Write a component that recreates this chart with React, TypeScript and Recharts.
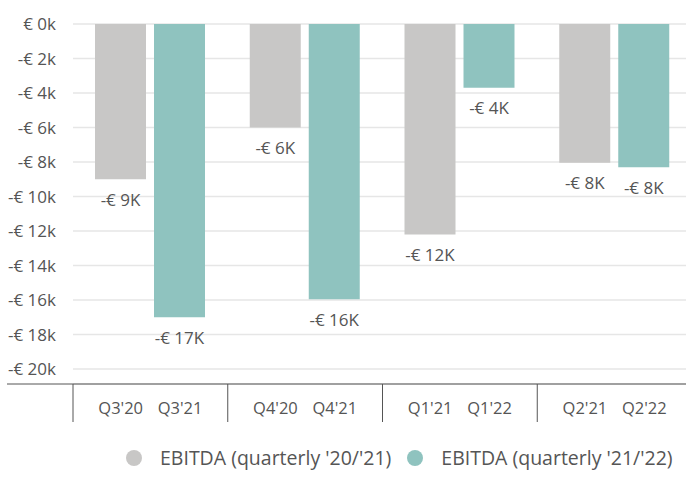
import React from "react";
import { BarChart, Bar, XAxis, YAxis, CartesianGrid, LabelList } from "recharts";

const groups = ["Q3", "Q4", "Q1", "Q2"];
const prevLabels = ["Q3'20", "Q4'20", "Q1'21", "Q2'21"];
const currLabels = ["Q3'21", "Q4'21", "Q1'22", "Q2'22"];
const prevValues = [-9000, -6000, -12200, -8050];
const currValues = [-17000, -15950, -3700, -8300];
const yTicks = [0, -2000, -4000, -6000, -8000, -10000, -12000, -14000, -16000, -18000, -20000];
const seriesNames = ["EBITDA (quarterly '20/'21)", "EBITDA (quarterly '21/'22)"];

const data = groups.map((g, i) => ({
  group: g,
  prevLabel: prevLabels[i],
  currLabel: currLabels[i],
  prev: prevValues[i],
  curr: currValues[i],
}));

const W = 700;
const H = 477;
const M = { top: 24, right: 8, bottom: 43, left: 0 };
const Y_W = 73;
const BAR_CAT_GAP = 22;
const BAR_GAP = 8;
const GRAY = "#c8c7c6";
const TEAL = "#8fc3bf";
const TEXT = "#555555";
const AXIS = "#555555";
const FONT = "'Open Sans', sans-serif";

const plotW = W - M.left - M.right - Y_W;
const band = plotW / groups.length;
const barSize = (band - 2 * BAR_CAT_GAP - BAR_GAP) / 2;
const labelShift = (barSize + BAR_GAP) / 2;

const XTick = (props: any) => {
  const { x, y, index, payload } = props;
  const d = data.find((r) => r.group === payload.value) || data[index];
  const left = x - band / 2;
  const right = x + band / 2;
  return (
    <g>
      {index === 0 && <line x1={7} x2={left} y1={y} y2={y} stroke={AXIS} strokeWidth={1} />}
      <line x1={left} x2={left} y1={y} y2={y + 38} stroke={AXIS} strokeWidth={1} />
      {index === groups.length - 1 && (
        <line x1={right} x2={right} y1={y} y2={y + 38} stroke={AXIS} strokeWidth={1} />
      )}
      <text x={x - labelShift} y={y + 30} textAnchor="middle" fill={TEXT} fontSize={16.5} fontFamily={FONT}>
        {d.prevLabel}
      </text>
      <text x={x + labelShift} y={y + 30} textAnchor="middle" fill={TEXT} fontSize={16.5} fontFamily={FONT}>
        {d.currLabel}
      </text>
    </g>
  );
};

const fmtY = (v: number) => (v === 0 ? "€ 0k" : `-€ ${Math.abs(v) / 1000}k`);
const fmtLabel = (v: number) => `-€ ${Math.round(Math.abs(v) / 1000)}K`;

const BarLabel = (props: any) => {
  const { x, y, width, height, value } = props;
  const end = Math.max(y, y + height);
  return (
    <text
      x={x + width / 2}
      y={end + 20}
      textAnchor="middle"
      dominantBaseline="central"
      fill={TEXT}
      fontSize={17}
      fontFamily={FONT}
    >
      {fmtLabel(value)}
    </text>
  );
};

const LegendBlock = () => (
  <div
    style={{
      position: "absolute",
      left: 126,
      top: 446,
      height: 24,
      display: "flex",
      alignItems: "center",
      fontFamily: FONT,
      fontSize: 19.5,
      color: TEXT,
    }}
  >
    {seriesNames.map((n, i) => (
      <div key={n} style={{ display: "flex", alignItems: "center", marginRight: 16 }}>
        <span
          style={{
            display: "inline-block",
            width: 16,
            height: 16,
            borderRadius: 8,
            background: i === 0 ? GRAY : TEAL,
            marginRight: 18,
          }}
        />
        <span style={{ whiteSpace: "nowrap", lineHeight: "24px" }}>{n}</span>
      </div>
    ))}
  </div>
);

export default function App() {
  return (
    <div style={{ position: "absolute", left: 0, top: 0, width: 686, height: 477, overflow: "hidden", background: "#fff" }}>
      <BarChart
        width={W}
        height={H}
        data={data}
        margin={M}
        barCategoryGap={BAR_CAT_GAP}
        barGap={BAR_GAP}
      >
        <CartesianGrid vertical={false} stroke="#e6e6e6" strokeWidth={1.5} />
        <XAxis
          dataKey="group"
          axisLine={{ stroke: AXIS, strokeWidth: 1 }}
          tickLine={false}
          tickSize={0}
          tickMargin={0}
          height={50}
          tick={<XTick />}
          interval={0}
        />
        <YAxis
          width={Y_W}
          domain={[-20000, 0]}
          ticks={yTicks}
          tickFormatter={fmtY}
          axisLine={false}
          tickLine={false}
          tickSize={0}
          tickMargin={17}
          padding={{ top: 0, bottom: 15 }}
          tick={{ fill: TEXT, fontSize: 17, fontFamily: FONT }}
          interval={0}
        />
        <Bar dataKey="prev" name={seriesNames[0]} fill={GRAY} isAnimationActive={false}>
          <LabelList dataKey="prev" content={<BarLabel />} />
        </Bar>
        <Bar dataKey="curr" name={seriesNames[1]} fill={TEAL} isAnimationActive={false}>
          <LabelList dataKey="curr" content={<BarLabel />} />
        </Bar>
      </BarChart>
      <LegendBlock />
    </div>
  );
}
